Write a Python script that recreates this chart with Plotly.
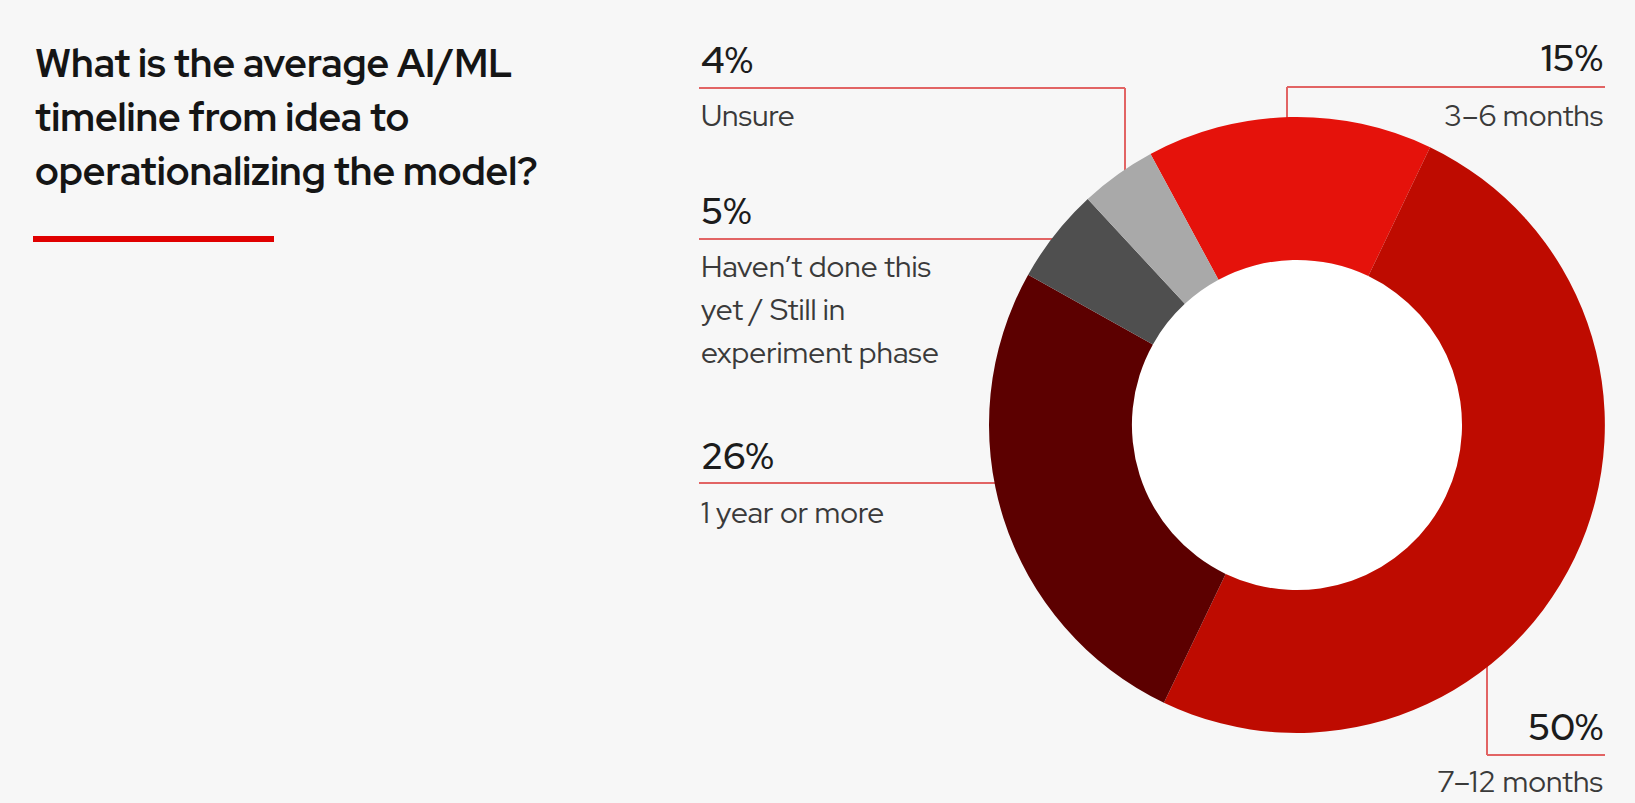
import math
import plotly.graph_objects as go

# ---------------- data ----------------
categories = ["3–6 months", "7–12 months", "1 year or more",
              "Haven’t done this yet / Still in experiment phase", "Unsure"]
values = [15, 50, 26, 5, 4]
label_lines = [["3–6 months"], ["7–12 months"], ["1 year or more"],
               ["Haven’t done this", "yet / Still in", "experiment phase"], ["Unsure"]]
title_lines = ["What is the average AI/ML", "timeline from idea to", "operationalizing the model?"]

# ---------------- styles ----------------
colors = ["#E5120B", "#BE0B00", "#5C0000", "#4F4F4F", "#A9A9A9"]
BG = "#F7F7F7"
LINE_C = "#E26464"
FONT = "Red Hat Display, Noto Sans, Open Sans, sans-serif"

W, H = 1635, 803
def px(x): return x / W
def py(y): return 1 - y / H

cx, cy, R = 1297, 425, 308
hole = 0.536

fig = go.Figure()
fig.add_trace(go.Pie(
    labels=categories, values=values, sort=False, direction="clockwise",
    rotation=-28.4, hole=hole, textinfo="none", hoverinfo="label+percent",
    marker=dict(colors=colors, line=dict(width=0)),
    domain=dict(x=[px(cx - R), px(cx + R)], y=[py(cy + R), py(cy - R)]),
    showlegend=False,
))

shapes = []
annotations = []

# white hole
rh = R * hole
shapes.append(dict(type="circle", xref="paper", yref="paper", layer="below",
                   x0=px(cx - rh), x1=px(cx + rh), y0=py(cy + rh), y1=py(cy - rh),
                   fillcolor="#FFFFFF", line=dict(width=0)))

def line(x0, y0, x1, y1):
    shapes.append(dict(type="line", xref="paper", yref="paper", layer="below",
                       x0=px(x0), y0=py(y0), x1=px(x1), y1=py(y1),
                       line=dict(color=LINE_C, width=2)))

def edge_x_left(y):
    return cx - math.sqrt(R * R - (y - cy) ** 2) + 3
def edge_y_top(x):
    return cy - math.sqrt(R * R - (x - cx) ** 2) + 3
def edge_y_bottom(x):
    return cy + math.sqrt(R * R - (x - cx) ** 2) - 3

left_x = 699
right_x = 1605

# 3-6 months (top right)
line(1287, 87, right_x, 87); line(1287, 87, 1287, edge_y_top(1287))
# 7-12 months (bottom right)
line(1487, edge_y_bottom(1487), 1487, 755); line(1487, 755, right_x, 755)
# 1 year or more
line(left_x, 483, edge_x_left(483), 483)
# Haven't done this
line(left_x, 239, edge_x_left(239), 239)
# Unsure
line(left_x, 88, 1125, 88); line(1125, 88, 1125, edge_y_top(1125))

pct_pos = {0: (right_x, 58, "right"), 1: (right_x, 726, "right"),
           2: (left_x, 455, "left"), 3: (left_x, 211, "left"), 4: (left_x, 60, "left")}
lab_pos = {0: 115, 1: 781, 2: 512, 3: 266, 4: 115}
LAB_STEP = 43

for i, v in enumerate(values):
    x, y, anc = pct_pos[i]
    annotations.append(dict(text=f"{v}%", x=px(x), y=py(y), xref="paper", yref="paper",
                            xanchor=anc, yanchor="middle", showarrow=False,
                            font=dict(family=FONT, size=37, color="#1C1C1C", weight=600)))
    for k, t in enumerate(label_lines[i]):
        annotations.append(dict(text=t, x=px(x), y=py(lab_pos[i] + k * LAB_STEP),
                                xref="paper", yref="paper", xanchor=anc, yanchor="middle",
                                showarrow=False,
                                font=dict(family=FONT, size=30, color="#3A3A3A")))

# title
for k, t in enumerate(title_lines):
    annotations.append(dict(text=t, x=px(33), y=py(63 + k * 54), xref="paper", yref="paper",
                            xanchor="left", yanchor="middle", showarrow=False,
                            font=dict(family=FONT, size=39, color="#151515", weight="bold")))
# red rule under title
shapes.append(dict(type="line", xref="paper", yref="paper", x0=px(33), x1=px(274),
                   y0=py(239), y1=py(239), line=dict(color="#E00000", width=6)))

fig.update_layout(width=W, height=H, margin=dict(l=0, r=0, t=0, b=0),
                  paper_bgcolor=BG, plot_bgcolor=BG,
                  shapes=shapes, annotations=annotations)
fig.write_html("out.html")
